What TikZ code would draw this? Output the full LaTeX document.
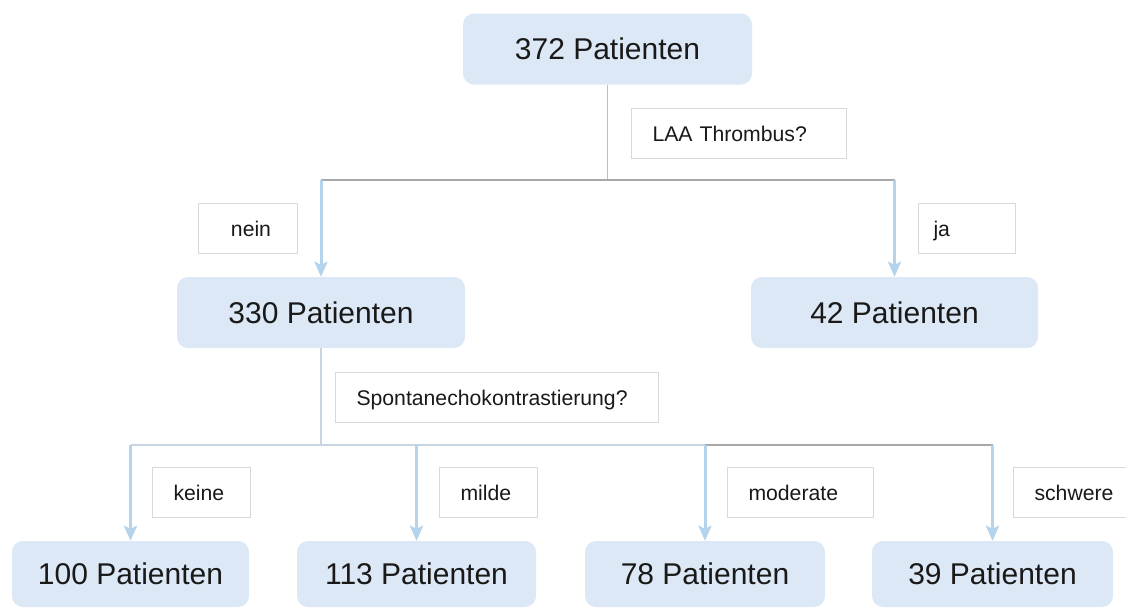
\documentclass[tikz,border=0pt]{standalone}
\usepackage{fontspec}
\setmainfont{Liberation Sans}
\usetikzlibrary{arrows.meta}
\definecolor{boxblue}{HTML}{DCE8F5}
\definecolor{arrowblue}{HTML}{B6D3EC}
\definecolor{labelgray}{HTML}{D9D9D9}
\definecolor{stemgray}{HTML}{A8A8A8}
\definecolor{stemblue}{HTML}{C8D4E0}
\tikzset{
  patbox/.style={
    fill=boxblue,
    rounded corners=11pt,
    minimum height=71pt,
    inner sep=0pt,
    text=black!90,
    font=\fontsize{30}{34}\selectfont
  },
  askbox/.style={
    draw=labelgray,
    line width=1pt,
    fill=white,
    anchor=north west,
    minimum height=50pt,
    inner xsep=21pt,
    inner ysep=0pt,
    text height=15.5pt,
    text depth=0pt,
    align=left,
    text=black!90,
    font=\fontsize{21.2}{25}\selectfont
  },
  stemline/.style={draw=stemgray!75,line width=1pt},
  splitline/.style={draw=stemgray,line width=1.6pt},
  lowerline/.style={draw=stemblue,line width=2pt},
  branch/.style={
    -{Stealth[length=15pt,width=13pt,inset=3pt]},
    line width=3pt,
    draw=arrowblue
  }
}

\begin{document}
\begin{tikzpicture}[x=1pt,y=-1pt]
    \useasboundingbox (0,0) rectangle (1126,608);

    % first level
    \node[patbox,minimum width=289pt] (pat372) at (607.5,49) {372 Patienten};
    \node[askbox,text width=173pt] (thrombus) at (631,108) {LAA Thrombus?};
    \coordinate (fork1) at (607.5,180);

    \node[patbox,minimum width=288pt] (pat330) at (321,312.5) {330 Patienten};
    \node[patbox,minimum width=287pt] (pat42) at (894.5,312.5) {42 Patienten};
    \node[askbox,text width=57pt,align=center] (nein) at (198,203) {\hspace*{6pt}nein};
    \node[askbox,text width=67pt,inner xsep=15pt] (ja) at (918,203) {ja};

    \draw[stemline] (pat372.south) -- (fork1);
    \draw[splitline] (pat330.north |- fork1) -- (pat42.north |- fork1);
    \draw[branch] (pat330.north |- fork1) -- (pat330.north);
    \draw[branch] (pat42.north |- fork1) -- (pat42.north);

    % second level
    \node[askbox,text width=281pt] (spontan) at (335,372) {Spontanechokontrastierung?};
    \coordinate (fork2) at (321,445);

    \node[patbox,minimum width=237pt,minimum height=66pt] (pat100) at (130.5,574) {100 Patienten};
    \node[patbox,minimum width=239pt,minimum height=66pt] (pat113) at (416.5,574) {113 Patienten};
    \node[patbox,minimum width=240pt,minimum height=66pt] (pat78) at (705,574) {78 Patienten};
    \node[patbox,minimum width=241pt,minimum height=66pt] (pat39) at (992.5,574) {39 Patienten};

    \node[askbox,text width=56pt] (keine) at (152,467) {keine};
    \node[askbox,text width=56pt] (milde) at (439,467) {milde};
    \node[askbox,text width=104pt] (moderate) at (727,467) {moderate};
    \node[askbox,text width=104pt] (schwere) at (1013,467) {schwere};

    \draw[lowerline] (pat330.south) -- (fork2);
    \draw[lowerline] (pat100.north |- fork2) -- (pat78.north |- fork2);
    \draw[splitline] (pat78.north |- fork2) -- (pat39.north |- fork2);
    \foreach \p in {pat100,pat113,pat78,pat39}
      \draw[branch] (\p.north |- fork2) -- (\p.north);
\end{tikzpicture}
\end{document}
